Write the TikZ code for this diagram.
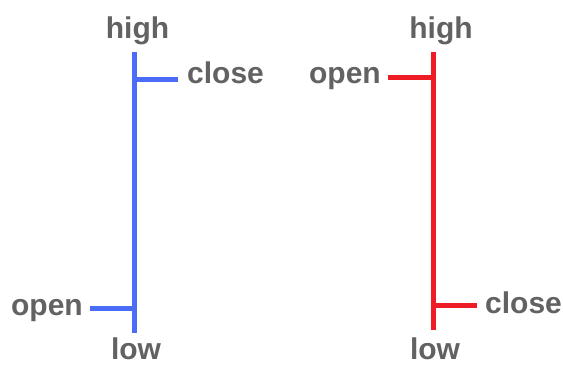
\documentclass[tikz,border=0pt]{standalone}
\usepackage{fontspec}
\setmainfont{Liberation Sans}
\usetikzlibrary{positioning}
\usetikzlibrary{calc}
\definecolor{upblue}{HTML}{4A6CF7}
\definecolor{downred}{HTML}{EE1C25}
\definecolor{wordgray}{HTML}{626262}
\tikzstyle{word} = [text=wordgray, font=\bfseries\fontsize{30}{30}\selectfont, inner sep=0pt]
\tikzstyle{coord} = [coordinate]
\tikzstyle{stick} = [line width=5pt]

\begin{document}
\begin{tikzpicture}[x=1pt,y=-1pt]
    \useasboundingbox (0,0) rectangle (563,365);
    % blue bar
    \node [coord] (btop) at (134,52) {};
    \node [coord] (bbot) at (134,333) {};
    \node [coord] (bclose) at (178,79) {};
    \node [coord] (bopen) at (90,308) {};
    \node [word, anchor=base] (bhigh) at (137.5,38) {high};
    \node [word, anchor=base] (blow) at (136,359) {low};
    \node [word, anchor=base west] (bclosetxt) at (187,83) {close};
    \node [word, anchor=base east] (bopentxt) at (83,315) {open};
    \draw [stick, upblue] (btop) -- (bbot);
    \draw [stick, upblue] (bclose) -- (bclose -| btop);
    \draw [stick, upblue] (bopen) -- (bopen -| btop);
    % red bar
    \node [coord] (rtop) at (433,52) {};
    \node [coord] (rbot) at (433,330) {};
    \node [coord] (ropen) at (388,77) {};
    \node [coord] (rclose) at (477,305) {};
    \node [word, anchor=base] (rhigh) at (441,38) {high};
    \node [word, anchor=base] (rlow) at (435,359) {low};
    \node [word, anchor=base east] (ropentxt) at (381,83) {open};
    \node [word, anchor=base west] (rclosetxt) at (485,313) {close};
    \draw [stick, downred] (rtop) -- (rbot);
    \draw [stick, downred] (ropen) -- (ropen -| rtop);
    \draw [stick, downred] (rclose) -- (rclose -| rtop);
\end{tikzpicture}
\end{document}
